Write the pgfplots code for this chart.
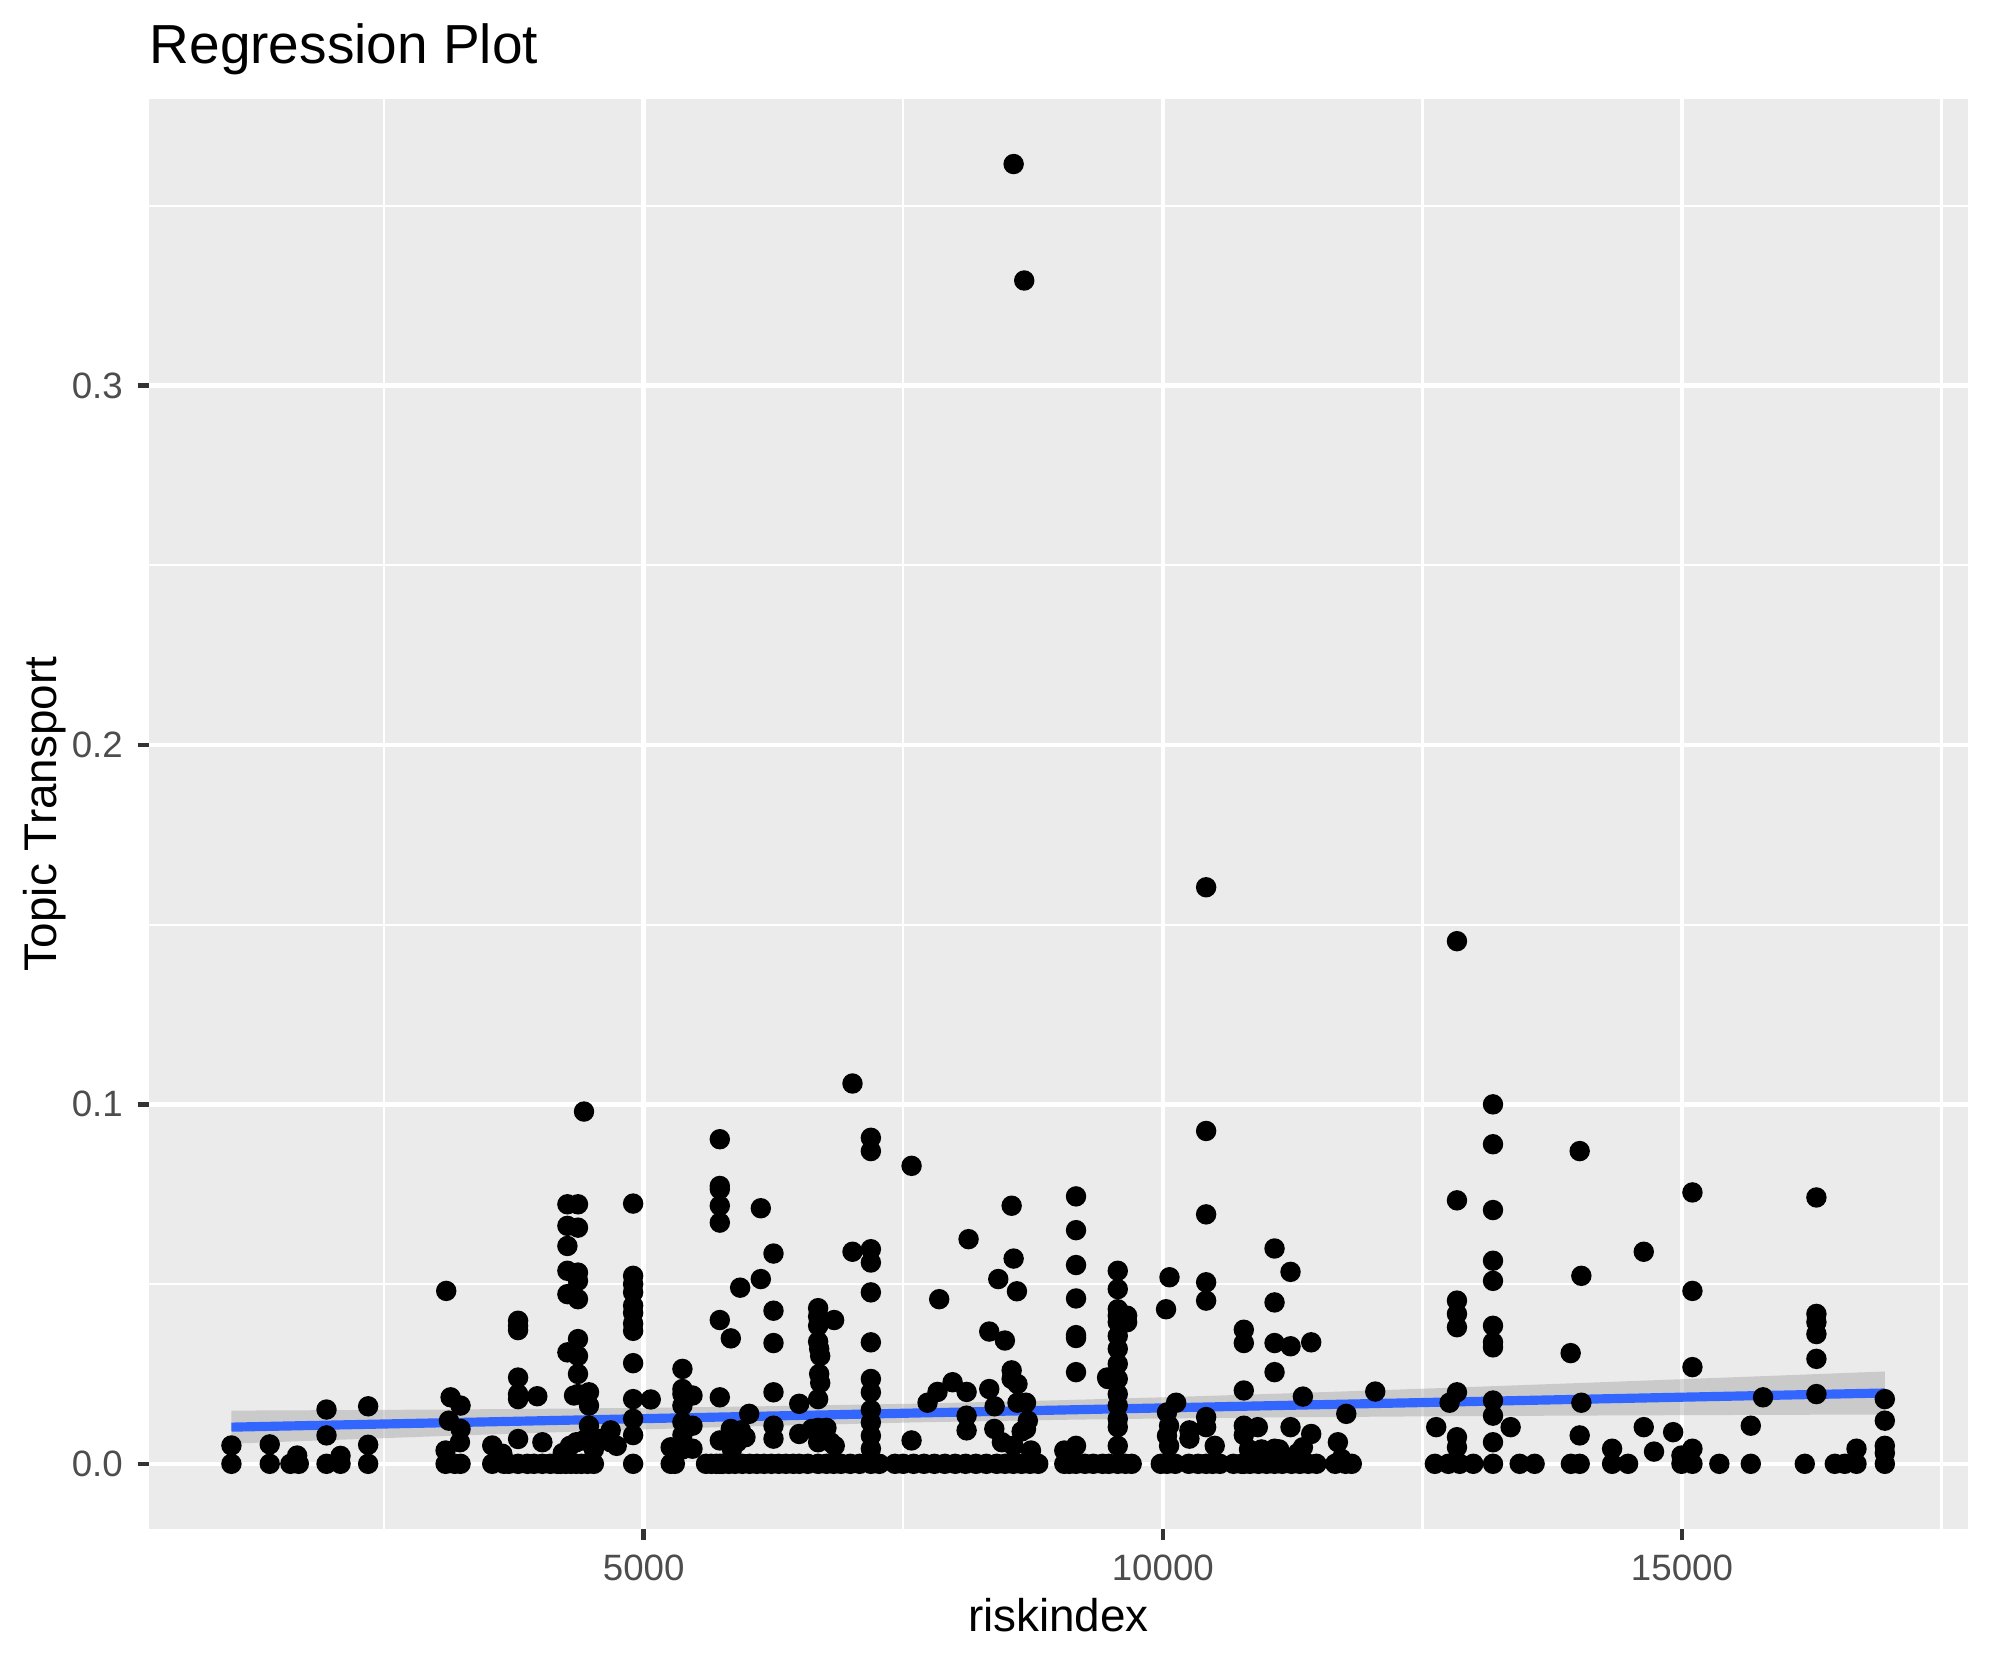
\documentclass[border=0pt]{standalone}
\usepackage{fontspec}
\setmainfont{Liberation Sans}
\usepackage{pgfplots}
\usepackage{pgfplotstable}
\pgfplotsset{compat=1.18}

\definecolor{panelbg}{HTML}{EBEBEB}
\definecolor{grey30}{HTML}{4D4D4D}
\definecolor{grey20}{HTML}{333333}
\definecolor{grey60}{HTML}{999999}
\definecolor{smoothblue}{HTML}{3366FF}

% riskindex vs topic share
\pgfplotstableread{
x y
1029 0
1029 0.0051
1398 0
1398 0.0054
1597 0
1678 0
1662 0.0023
1945 0
1945 0.0079
1945 0.0151
2080 0
2080 0.0022
2346 0
2346 0.0053
2346 0.0160
3098 0.0481
3092 0
3092 0.0037
3140 0.0185
3236 0.0162
3124 0.0120
3236 0.0097
3230 0.0060
3236 0
3180 0
3541 0.0051
3541 0
3638 0.0028
3654 0
3700 0
3790 0.0398
3790 0.0384
3790 0.0372
3790 0.0240
3790 0.0194
3790 0.0180
3790 0.0069
3790 0
3880 0
3943 0
3975 0.0188
4024 0.0060
4024 0
4100 0
4168 0
4200 0
4250 0
4300 0
4350 0
4400 0
4460 0
4520 0
4220 0.0030
4290 0.0050
4350 0.0060
4420 0.0065
4480 0.0060
4520 0.0040
4265 0.0722
4265 0.0662
4265 0.0606
4265 0.0537
4265 0.0472
4265 0.0310
4367 0.0722
4367 0.0657
4367 0.0532
4367 0.0509
4367 0.0458
4367 0.0347
4367 0.0300
4367 0.0250
4367 0.0194
4329 0.0190
4473 0.0199
4473 0.0162
4473 0.0106
4473 0.0070
4425 0.0980
4682 0.0093
4682 0.0060
4600 0.0070
4740 0.0050
4898 0.0724
4898 0.0523
4898 0.0500
4898 0.0477
4898 0.0440
4898 0.0420
4898 0.0390
4898 0.0370
4898 0.0280
4898 0.0180
4898 0.0125
4898 0.0080
4898 0
5068 0.0179
5260 0.0046
5260 0
5300 0
5373 0.0264
5373 0.0208
5373 0.0194
5373 0.0162
5373 0.0116
5373 0.0080
5373 0.0040
5470 0.0190
5470 0.0106
5470 0.0042
5733 0.0903
5733 0.0773
5733 0.0764
5733 0.0718
5733 0.0671
5733 0.0400
5733 0.0185
5733 0.0065
5733 0
5839 0.0349
5839 0.0097
5929 0.0490
6016 0.0139
5935 0.0093
5980 0.0074
6128 0.0711
6128 0.0514
6250 0.0585
6250 0.0426
6250 0.0336
6250 0.0199
6250 0.0106
6250 0.0070
6498 0.0167
6498 0.0083
6498 0
5600 0
5650 0
5700 0
5760 0
5820 0
5880 0
5950 0
6020 0
6090 0
6160 0
6230 0
6300 0
6370 0
6440 0
6580 0
5850 0.0040
5900 0.0060
6680 0.0433
6680 0.0410
6680 0.0384
6680 0.0340
6690 0.0320
6700 0.0300
6690 0.0250
6700 0.0225
6680 0.0180
6680 0.0100
6680 0.0060
6680 0
6834 0.0400
6760 0.0100
6840 0.0050
7011 0.1058
7188 0.0907
7188 0.0870
7188 0.0597
7188 0.0560
7188 0.0477
7188 0.0338
7188 0.0236
7188 0.0199
7188 0.0150
7188 0.0115
7188 0.0078
7188 0.0042
7188 0
7011 0.0590
7580 0.0829
7580 0.0065
7846 0.0458
7734 0.0170
7830 0.0200
7975 0.0227
8110 0.0200
8110 0.0134
8110 0.0093
8129 0.0625
8328 0.0368
8328 0.0208
8415 0.0514
8479 0.0343
8544 0.0718
8544 0.0260
8544 0.0236
8563 0.0571
8595 0.0480
8600 0.0222
8600 0.0170
8682 0.0170
8682 0.0097
8377 0.0097
8380 0.0160
8730 0.0037
9164 0.0744
9164 0.0650
9164 0.0553
9164 0.0460
9164 0.0358
9164 0.0350
9164 0.0255
9164 0.0050
9164 0
9051 0.0037
9051 0
9469 0.0236
6760 0
6830 0
6900 0
6990 0
7080 0
7270 0
7420 0
7500 0
7600 0
7700 0
7800 0
7900 0
8000 0
8100 0
8200 0
8300 0
8400 0
8480 0
8560 0
8640 0
8720 0
8800 0
6620 0.0097
6800 0.0060
8450 0.0060
8560 0.0050
8640 0.0090
8700 0.0120
9566 0.0537
9566 0.0486
9566 0.0430
9566 0.0412
9566 0.0394
9566 0.0356
9566 0.0320
9566 0.0278
9566 0.0236
9566 0.0194
9566 0.0162
9566 0.0125
9566 0.0102
9566 0.0050
9566 0
9656 0.0412
9656 0.0394
9463 0.0240
10064 0.0519
10031 0.0430
10128 0.0170
10040 0.0143
10060 0.0106
10040 0.0078
10060 0.0050
10256 0.0093
10256 0.0070
10417 0.1604
10417 0.0926
10417 0.0694
10417 0.0505
10417 0.0454
10417 0.0130
10417 0.0102
10417 0
10500 0.0050
10780 0.0373
10780 0.0336
10780 0.0204
10780 0.0106
10780 0.0080
10780 0
10915 0.0102
11076 0.0599
11076 0.0449
11076 0.0336
11076 0.0255
11076 0.0042
11076 0
11230 0.0534
11230 0.0327
11230 0.0102
11429 0.0338
11429 0.0083
11349 0.0187
11349 0.0046
11767 0.0139
11686 0.0060
11720 0.0014
12046 0.0201
9420 0
9480 0
9640 0
9700 0
9980 0
10040 0
10120 0
10250 0
10340 0
10480 0
10550 0
10680 0
10760 0
10840 0
10920 0
11000 0
11150 0
11240 0
11320 0
11400 0
11480 0
11660 0
11760 0
11820 0
10830 0.0040
10950 0.0040
11120 0.0040
11300 0.0030
9100 0
9250 0
9330 0
12633 0.0102
12620 0
12750 0
12860 0
12990 0
12762 0.0170
12833 0.1454
12833 0.0733
12833 0.0454
12833 0.0417
12833 0.0380
12833 0.0199
12833 0.0074
12833 0.0046
13180 0.1000
13180 0.0889
13180 0.0706
13180 0.0565
13180 0.0509
13180 0.0384
13180 0.0338
13180 0.0324
13180 0.0176
13180 0.0134
13180 0.0060
13180 0
13350 0.0102
13437 0
13581 0
14015 0.0870
14015 0.0079
14015 0
14031 0.0523
14031 0.0170
13928 0.0308
13930 0
14327 0.0042
14327 0
14481 0
14632 0.0590
14632 0.0102
14731 0.0034
14915 0.0088
15101 0.0755
15101 0.0481
15101 0.0269
15101 0.0042
15101 0
14995 0.0023
14995 0
15360 0
15663 0.0106
15663 0
15781 0.0185
16183 0
16295 0.0741
16295 0.0417
16295 0.0394
16295 0.0361
16295 0.0292
16295 0.0194
16472 0
16568 0
16681 0.0042
16681 0
16954 0.0180
16954 0.0120
16954 0.0050
16954 0.0030
16954 0
8563 0.3616
8665 0.3292
}\pointdata

% linear fit and its 95% band
\pgfplotstableread{
x fit
1029 0.01020
16954 0.01970
}\fitdata

\begin{document}
\begin{tikzpicture}
\begin{axis}[
    at={(0,0)}, anchor=south west,
    scale only axis,
    width=436.6pt, height=343.2pt,
    xmin=235, xmax=17755,
    ymin=-0.0181, ymax=0.3797,
    scaled x ticks=false, scaled y ticks=false,
    axis background/.style={fill=panelbg},
    axis line style={draw=none},
    xtick={5000,10000,15000},
    xticklabels={5000,10000,15000},
    ytick={0,0.1,0.2,0.3},
    yticklabels={0.0,0.1,0.2,0.3},
    minor xtick={2500,7500,12500,17500},
    minor ytick={0.05,0.15,0.25,0.35},
    grid=both,
    major grid style={white, line width=1.07pt},
    minor grid style={white, line width=0.53pt},
    xtick pos=bottom, ytick pos=left,
    tick align=outside,
    major tick length=2.75pt, minor tick length=0pt,
    major tick style={grey20, line width=1.07pt},
    ticklabel style={font=\fontsize{8.8}{10}\selectfont, text=grey30},
    every axis title shift=0pt,
    title={Regression Plot},
    title style={at={(axis description cs:0,1.02506)}, anchor=base west,
        inner sep=0pt, font=\fontsize{13.2}{15}\selectfont},
    xlabel={riskindex},
    xlabel style={at={(axis description cs:0.5,-0.0720)}, anchor=base,
        inner sep=0pt, font=\fontsize{11}{13}\selectfont},
    ylabel={Topic Transport},
    ylabel style={at={(axis description cs:-0.0511,0.5)}, anchor=base,
        inner sep=0pt, font=\fontsize{11}{13}\selectfont},
]

\addplot[only marks, mark=*, mark size=2.25pt,
    mark options={draw=none, fill=black}] table[x=x, y=y] {\pointdata};

% confidence band: upper edge left to right, lower edge back
\addplot[draw=none, fill=grey60, fill opacity=0.4] coordinates {
    (1029,0.01480) (2000,0.01493) (3000,0.01509) (4000,0.01530)
    (5000,0.01557) (6000,0.01593) (7600,0.01672) (9000,0.01768)
    (10000,0.01850) (11000,0.01941) (12500,0.02089) (14000,0.02246)
    (15000,0.02354) (16000,0.02463) (16954,0.02569)
    (16954,0.01371) (16000,0.01363) (15000,0.01353) (14000,0.01342)
    (12500,0.01320) (11000,0.01289) (10000,0.01261) (9000,0.01223)
    (7600,0.01152) (6000,0.01041) (5000,0.00957) (4000,0.00864)
    (3000,0.00766) (2000,0.00663) (1029,0.00560)
} -- cycle;

\addplot[smoothblue, line width=2.2pt] table[x=x, y=fit] {\fitdata};

\end{axis}
\pgfresetboundingbox
\useasboundingbox (-35.76pt,-32.64pt) rectangle (441.88pt,366.96pt);
\end{tikzpicture}
\end{document}
